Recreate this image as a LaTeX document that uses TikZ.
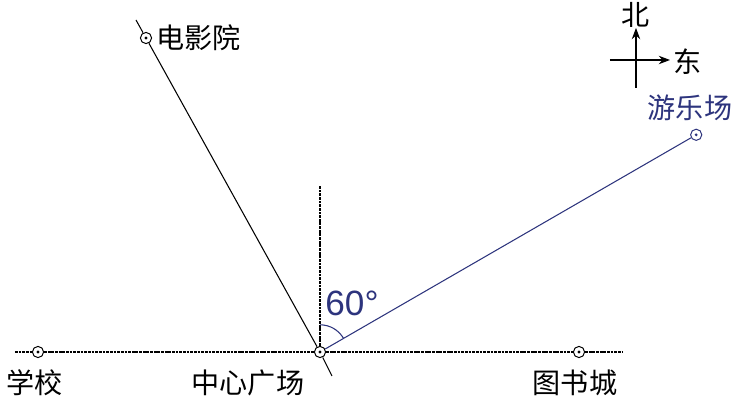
\documentclass[tikz,border=0pt]{standalone}
\usepackage{fontspec}
\newfontfamily\cjk{Noto Sans CJK SC}
\newfontfamily\numfont{Liberation Sans}
\usetikzlibrary{positioning,arrows.meta}
\definecolor{mapblue}{RGB}{45,52,125}

\begin{document}
\begin{tikzpicture}[line width=0.75pt]
        \def\dotcolor{black}
        \tikzstyle{place}=[circle,draw,line width=0.7pt,fill=white,minimum size=0.28cm,inner sep=0pt,
            path picture={\fill[\dotcolor] (path picture bounding box.center) circle (1.1pt);}]
        \tikzstyle{label}=[inner sep=0pt, font=\cjk\fontsize{20}{24}\selectfont]
        \tikzstyle{guide}=[dash pattern=on 2pt off 0.6pt]
        \useasboundingbox (-8.0,-1.275) rectangle (10.375,8.8);

        % places
        \node[place] (center) at (0,0) {};
        \node[place] (school) at (-7.05,0) {};
        \node[place] (library) at (6.475,0) {};
        \node[place] (cinema) at (-4.35,7.85) {};
        \def\dotcolor{mapblue}
        \node[place, draw=mapblue] (park) at (30:10.86) {};

        \coordinate (west end) at (-7.625,0);
        \coordinate (east end) at (7.55,0);
        \coordinate (north end) at (0,4.15);
        \coordinate (cinema top) at (-4.6,8.3);
        \coordinate (cinema tail) at (0.3,-0.6);

        % lines
        \draw[guide] (west end) -- (school) -- (center) -- (library) -- (east end);
        \draw[guide] (center) -- (north end);
        \draw (cinema top) -- (cinema) -- (center) -- (cinema tail);
        \draw[mapblue] (center) -- (park);
        \draw[mapblue] (0,0.68) arc (90:30:0.68);
        \node[text=mapblue, font=\numfont\fontsize{25}{28}\selectfont] (angle) at (0.8,1.22) {60\textdegree};

        % labels
        \node[label, right=0.1cm of cinema] (cinema name) {电影院};
        \node[label, text=mapblue] (park name) at (9.25,6.1) {游乐场};
        \node[label] (school name) at (-7.125,-0.775) {学校};
        \node[label] (center name) at (-1.8,-0.775) {中心广场};
        \node[label] (library name) at (6.375,-0.775) {图书城};

        % compass
        \coordinate (compass s) at (7.9,6.6);
        \coordinate (compass n) at (7.9,8.1);
        \coordinate (compass w) at (7.25,7.3);
        \coordinate (compass e) at (8.75,7.3);
        \draw[-{Stealth[length=8pt,width=6pt]}] (compass s) -- (compass n);
        \draw[-{Stealth[length=8pt,width=6pt]}] (compass w) -- (compass e);
        \node[label] (north) at (7.9,8.42) {北};
        \node[label] (east) at (9.2,7.25) {东};
\end{tikzpicture}
\end{document}
